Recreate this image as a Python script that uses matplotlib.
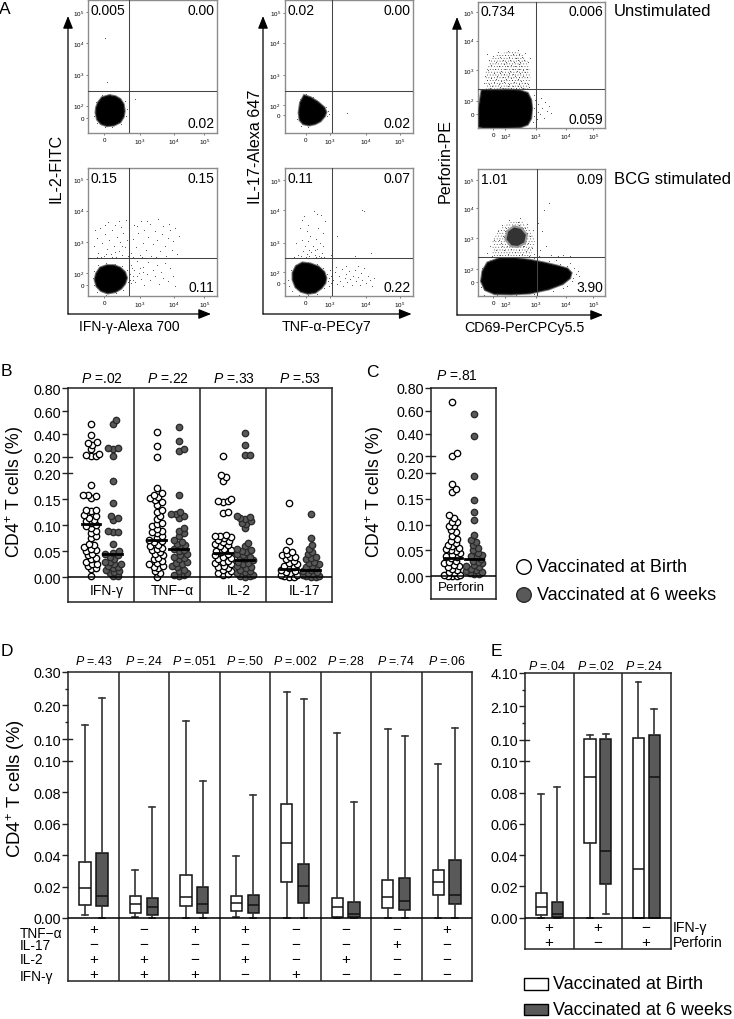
import numpy as np
import matplotlib
matplotlib.use("Agg")
import matplotlib.pyplot as plt
from matplotlib.patches import Circle, Rectangle

plt.rcParams['font.family'] = ['Liberation Sans', 'DejaVu Sans']
plt.rcParams['mathtext.fontset'] = 'custom'
plt.rcParams['mathtext.rm'] = 'Liberation Sans'
plt.rcParams['mathtext.it'] = 'Liberation Sans:italic'
plt.rcParams['mathtext.bf'] = 'Liberation Sans:bold'
plt.rcParams['hatch.linewidth'] = 0.3

WHITE = "#ffffff"
DARK = "#595959"
LINE = "#222222"

# --- panel B / C: percent of CD4+ T cells per infant
cytokines = ["IFN-γ", "TNF−α", "IL-2", "IL-17"]
p_b = [".02", ".22", ".33", ".53"]
ifn_birth = [.489, .392, .328, .322, .308, .27, .226, .215, .21, .21, .178, .158, .157, .158, .152, .13, .13, .128, .12, .118, .115, .11, .108,
             .104, .10, .098, .095, .09, .085, .08, .075, .065, .062, .058, .055, .052, .05, .045, .042, .038, .035, .03, .026, .025, .022, .018, .016, .002]
ifn_6wk = [.52, .49, .28, .28, .27, .21, .185, .143, .118, .115, .11, .09, .088, .088, .065, .05, .047, .045, .042, .04, .035, .03, .03,
           .025, .025, .022, .02, .018, .015, .012, .01, .008, .002, .002]
tnf_birth = [.416, .293, .203, .172, .162, .158, .155, .152, .148, .145, .14, .13, .125, .118, .112, .105, .102, .098, .093, .09, .088, .085, .08,
             .075, .072, .07, .067, .063, .06, .057, .055, .052, .048, .045, .042, .038, .035, .032, .028, .025, .022, .02, .018, .012, .008, .001]
tnf_6wk = [.46, .335, .27, .255, .158, .125, .122, .122, .118, .115, .095, .09, .085, .08, .072, .068, .065, .062, .058, .055, .052, .05, .045,
           .042, .04, .038, .035, .03, .028, .025, .022, .02, .015, .012, .008, .005, .004, .003]
il2_birth = [.205, .197, .192, .186, .151, .146, .144, .146, .125, .124, .082, .08, .08, .078, .075, .072, .07, .067, .065, .062, .06, .055,
             .052, .05, .048, .045, .042, .04, .037, .035, .032, .03, .027, .025, .022, .02, .018, .015, .012, .008, .006, .005]
il2_6wk = [.41, .308, .22, .22, .118, .116, .115, .112, .108, .105, .103, .095, .066, .06, .055, .052, .05, .048, .045, .042, .04, .038, .035,
           .033, .03, .028, .025, .022, .02, .018, .015, .012, .01, .008, .005, .003, .002, .001]
il17_birth = [.142, .07, .053, .048, .045, .042, .04, .04, .035, .032, .028, .025, .022, .02, .018, .015, .012, .01, .008, .005, .004, .002, .001, .001]
il17_6wk = [.122, .076, .062, .055, .048, .045, .04, .038, .035, .03, .028, .025, .022, .02, .018, .015, .012, .01, .008, .006, .004, .003, .002, .001, .001]
medians_birth = [.103, .072, .047, .016]
medians_6wk = [.044, .054, .033, .014]

perf_birth = [.68, .229, .206, .178, .168, .162, .118, .113, .105, .104, .098, .097, .09, .085, .078, .072, .068, .064, .06, .058, .055, .052, .05,
              .048, .045, .042, .04, .038, .035, .03, .027, .025, .022, .02, .018, .015, .012, .008, .006, .003, .002, .001, .001, .001]
perf_6wk = [.574, .381, .193, .147, .125, .108, .08, .07, .066, .06, .055, .05, .045, .042, .04, .037, .034, .03, .028, .025, .022, .02,
            .018, .015, .012, .01, .008, .007, .005, .004]
perf_medians = [.036, .034]

# --- panel D / E: whisker low, q1, median, q3, whisker high
p_d = [".43", ".24", ".051", ".50", ".002", ".28", ".74", ".06"]
d_birth = [[.002, .0083, .019, .0354, .1407], [.0004, .0032, .0087, .0142, .0303], [0, .0074, .0131, .0273, .1525], [.0004, .0047, .0093, .0142, .0394],
           [0, .0227, .0479, .0727, .2406], [0, .0008, .0072, .0125, .1174], [0, .0061, .0131, .0239, .1287], [0, .0148, .0229, .0303, .0977]]
d_6wk = [[0, .0074, .0138, .0411, .2228], [0, .0021, .0068, .0125, .0706], [0, .0034, .0091, .0195, .0871], [0, .003, .0081, .0148, .0782],
         [0, .0097, .0203, .0341, .2188], [0, .0008, .0025, .0104, .0739], [0, .0051, .011, .0252, .11], [0, .0089, .0148, .0371, .1317]]
d_rows = ["TNF−α", "IL-17", "IL-2", "IFN-γ"]
d_signs = ["+−++", "−−++", "+−−+", "+−+−", "−−−+", "−−+−", "−+−−", "+−−−"]

p_e = [".04", ".02", ".24"]
e_birth = [[0, .0019, .0066, .0156, .0793], [0, .0475, .0898, .14, .4], [0, 0, .0309, .18, 3.58]]
e_6wk = [[0, .0006, .0023, .0098, .0838], [.0023, .0215, .0424, .11, .46], [0, 0, .09, .38, 1.94]]
e_rows = ["IFN-γ", "Perforin"]
e_signs = ["++", "+−", "−+"]

# --- panel A: flow plots, values in display channels
p1_un_blob = [(17, 60), (20, 40), (28, 27), (40, 21), (55, 23), (68, 32), (75, 48), (77, 65), (75, 85), (68, 100), (58, 108), (45, 111), (30, 105), (22, 90), (18, 75)]
p1_un_dots = [(36, 284), (41, 151), (100, 101), (14, 70), (13, 50), (20, 30), (35, 17), (50, 17), (70, 26), (80, 50), (82, 72), (78, 95), (62, 108), (46, 116), (30, 112), (16, 92)]
p1_st_blob = [(15, 50), (19, 30), (28, 17), (42, 10), (58, 14), (70, 24), (78, 38), (82, 55), (78, 72), (68, 85), (55, 92), (40, 92), (26, 85), (18, 68)]
p1_st_dots = [(12, 150), (18, 176), (22, 131), (25, 205), (30, 160), (33, 120), (36, 188), (40, 142), (42, 222), (45, 170), (48, 126), (52, 198), (55, 152), (58, 215), (60, 118),
              (62, 178), (65, 137), (68, 162), (70, 208), (73, 125), (75, 190), (78, 147), (80, 228), (82, 170), (85, 120), (28, 118), (50, 118), (44, 116), (38, 128), (20, 118),
              (15, 200), (35, 215), (66, 226), (72, 150), (57, 133), (92, 130), (95, 172), (98, 215), (102, 148), (106, 190), (110, 124), (113, 226), (117, 160), (120, 200),
              (124, 138), (128, 178), (131, 216), (135, 120), (138, 156), (142, 196), (146, 170), (150, 232), (153, 136), (157, 186), (160, 212), (163, 150), (167, 122), (170, 176),
              (175, 198), (178, 140), (182, 165), (186, 205), (190, 128), (194, 182), (105, 210), (125, 225), (145, 118), (172, 218), (115, 118), (96, 118), (92, 95), (95, 60),
              (98, 78), (100, 42), (104, 105), (108, 70), (112, 52), (116, 88), (120, 35), (125, 66), (128, 102), (133, 48), (138, 80), (142, 60), (147, 95), (152, 38), (156, 72),
              (160, 55), (165, 100), (170, 45), (175, 84), (180, 62), (186, 30), (94, 85), (96, 48), (105, 62), (110, 84), (118, 74), (90, 68), (92, 40), (11, 55), (12, 34), (20, 12),
              (38, 5), (60, 9), (75, 20), (85, 42), (88, 62), (84, 80), (72, 92), (58, 98), (38, 100), (22, 95), (12, 75), (90, 50)]

p2_un_blob = [(31, 60), (33, 38), (40, 27), (52, 23), (65, 27), (76, 35), (85, 50), (88, 62), (84, 75), (70, 92), (55, 105), (42, 111), (34, 90)]
p2_un_dots = [(133, 59), (28, 60), (27, 40), (35, 20), (50, 18), (70, 28), (90, 50), (92, 65), (88, 78), (95, 55), (60, 108), (45, 115), (32, 100)]
p2_st_blob = [(18, 50), (24, 28), (35, 15), (50, 9), (65, 12), (78, 25), (86, 40), (88, 55), (84, 72), (72, 88), (55, 97), (38, 100), (25, 90), (18, 70)]
p2_st_dots = [(35, 120), (38, 170), (40, 135), (42, 240), (44, 150), (46, 118), (47, 195), (48, 128), (50, 165), (50, 215), (52, 140), (53, 122), (54, 180), (56, 132), (58, 116),
              (60, 150), (62, 255), (64, 125), (66, 172), (68, 118), (70, 142), (72, 205), (74, 120), (76, 160), (78, 245), (80, 130), (82, 190), (84, 118), (86, 225), (70, 248),
              (28, 125), (25, 160), (33, 205), (20, 118), (78, 118), (65, 140), (38, 228), (82, 150), (170, 255), (165, 258), (100, 125), (150, 120), (112, 180), (185, 130),
              (104, 50), (108, 72), (112, 38), (115, 60), (118, 45), (122, 82), (125, 30), (128, 55), (130, 68), (134, 42), (137, 75), (140, 52), (144, 35), (146, 62), (150, 80),
              (153, 45), (156, 58), (160, 35), (163, 70), (166, 50), (170, 84), (174, 40), (178, 62), (182, 48), (186, 30), (190, 55), (100, 62), (98, 40), (96, 78), (94, 55),
              (110, 88), (132, 90), (157, 90), (95, 30), (8, 50), (10, 30), (15, 15), (30, 4), (50, 5), (70, 8), (85, 25), (92, 45), (90, 68), (82, 85), (70, 98), (50, 104), (30, 100), (14, 80)]

p3_un_blob = [(2, 5), (10, 3), (30, 3), (60, 3), (90, 4), (105, 12), (112, 30), (114, 60), (112, 85), (105, 105), (90, 112), (60, 115), (30, 113), (8, 113), (2, 60)]
p3_un_cloud = [(16, 118), (108, 118), (112, 160), (106, 200), (92, 225), (70, 232), (44, 224), (24, 205), (15, 165)]
p3_un_dots = [(14, 118), (25, 122), (36, 119), (47, 124), (58, 118), (69, 122), (80, 120), (91, 124), (102, 119), (108, 125), (30, 127), (63, 128), (85, 128), (52, 120), (74, 126), (96, 122),
              (12, 136), (22, 132), (33, 138), (44, 133), (55, 139), (66, 134), (77, 138), (88, 132), (99, 137), (106, 134), (48, 142), (72, 145), (92, 143), (60, 147), (84, 147), (37, 148), (18, 146),
              (15, 158), (27, 152), (41, 156), (52, 153), (63, 158), (70, 152), (79, 157), (86, 153), (95, 158), (104, 153), (56, 164), (66, 166), (75, 164), (90, 165), (99, 168), (33, 165), (46, 167),
              (20, 176), (35, 178), (48, 172), (58, 177), (68, 173), (74, 178), (82, 172), (88, 178), (96, 174), (103, 179), (62, 186), (78, 186), (70, 190), (92, 187), (44, 186), (54, 192), (86, 194), (28, 190),
              (24, 204), (38, 200), (52, 206), (60, 199), (68, 204), (76, 198), (84, 205), (90, 200), (98, 206), (106, 198), (46, 213), (66, 214), (80, 212), (94, 215), (32, 216), (57, 220), (74, 222), (88, 224),
              (100, 226), (42, 228), (64, 232), (84, 235), (18, 222), (110, 212), (116, 20), (118, 38), (120, 62), (122, 85), (125, 28), (127, 50), (128, 74), (132, 42), (134, 92), (136, 60), (140, 30),
              (143, 78), (146, 52), (150, 68), (124, 108), (118, 100), (155, 45)]
p3_st_blob = [(7, 45), (15, 20), (35, 8), (70, 7), (110, 10), (150, 22), (180, 38), (195, 55), (198, 70), (190, 82), (170, 90), (140, 100), (110, 108), (80, 113), (45, 113), (20, 100), (10, 75)]
p3_st_cloud = [(30, 120), (112, 120), (122, 160), (112, 200), (92, 226), (66, 222), (44, 200), (30, 165)]
p3_st_core = [(58, 170), (70, 150), (85, 148), (100, 160), (104, 185), (92, 205), (76, 210), (62, 196)]
p3_st_dots = [(18, 130), (25, 150), (30, 120), (34, 170), (38, 140), (42, 195), (46, 125), (48, 160), (50, 215), (54, 138), (56, 178), (58, 118), (60, 205), (62, 150), (64, 128), (66, 228), (68, 190),
              (70, 142), (72, 168), (74, 118), (76, 212), (78, 132), (82, 150), (84, 222), (86, 124), (88, 140), (90, 235), (92, 205), (94, 128), (96, 150), (98, 170), (100, 190), (102, 135), (104, 218),
              (106, 160), (108, 122), (110, 180), (114, 145), (116, 200), (120, 128), (125, 165), (128, 220), (132, 140), (140, 260), (150, 280), (135, 195), (145, 150), (130, 120), (138, 118), (155, 125),
              (160, 118), (170, 120), (180, 125), (195, 122), (60, 170), (62, 185), (64, 195), (66, 160), (70, 205), (74, 155), (80, 212), (86, 160), (88, 215), (96, 205), (98, 150), (100, 205), (102, 175),
              (104, 190), (106, 145), (58, 195), (52, 180), (50, 150), (44, 170), (3, 50), (5, 28), (12, 5), (40, 3), (80, 3), (120, 6), (160, 16), (190, 32), (203, 55), (208, 68), (204, 85), (190, 92),
              (175, 98), (150, 106), (120, 114), (90, 116), (60, 116), (25, 108), (8, 85), (200, 45), (212, 75), (180, 25), (215, 60), (196, 100), (165, 108)]

fig = plt.figure(figsize=(7.34, 10.2), dpi=100)
bg = fig.add_axes([0, 0, 1, 1])
bg.set_xlim(0, 734)
bg.set_ylim(1020, 0)
bg.axis("off")


def add_ax(left, top, right, bottom):
    return fig.add_axes([left / 734, 1 - bottom / 1020, (right - left) / 734, (bottom - top) / 1020], facecolor="none")


def broken_scale(brk, low_k, gap, up_k):
    top = brk * low_k

    def fwd(v):
        v = np.asarray(v, dtype=float)
        return np.where(v <= brk, v * low_k, top + gap + (v - brk) * up_k)

    def inv(p):
        p = np.asarray(p, dtype=float)
        return np.where(p <= top, p / low_k, brk + np.maximum(p - top - gap, 0) / up_k)

    return fwd, inv


def broken_panel(rect, n, brk, scale, ymin, ymax, ticks, labels, minor=()):
    ax = add_ax(*rect)
    ax.set_yscale("function", functions=broken_scale(brk, *scale))
    ax.set_yticks(ticks, labels=labels)
    ax.set_yticks(list(minor), minor=True)
    ax.set_ylim(ymin, ymax)
    ax.set_xlim(0, n)
    ax.set_xticks([])
    ax.tick_params(axis="y", which="major", length=4.5, width=1, labelsize=10.3, pad=0.5, color=LINE)
    ax.tick_params(axis="y", which="minor", length=2.5, width=1, color=LINE)
    for s in ax.spines.values():
        s.set_linewidth(1.1)
        s.set_color(LINE)
    for i in range(1, n):
        ax.axvline(i, color=LINE, lw=1.1)
    ax.axhline(0, color="black", lw=1.1, zorder=5)
    # the two ticks at the break run through the frame
    for v in (brk, brk + 1e-9):
        ax.plot([0, 4.0 / (rect[2] - rect[0]) * n], [v, v], color=LINE, lw=1, clip_on=False)
    return ax


def swarm(ax, center, values, diam=4.4, reach=9.5):
    # spread each value sideways until it clears the ones already placed
    vals = np.sort(np.asarray(values))
    pts = ax.transData.transform(np.column_stack([np.full(len(vals), center), vals]))
    placed = []
    offsets = [0.0]
    for k in range(1, int(reach / 1.6) + 1):
        offsets += [k * 1.6, -k * 1.6]
    for px, py in pts:
        best, best_gap = 0.0, -1.0
        for off in offsets:
            gap = min([np.hypot(px + off - a, py - b) for a, b in placed] or [99.0])
            if gap >= diam:
                best = off
                break
            if gap > best_gap:
                best, best_gap = off, gap
        placed.append((px + best, py))
    return ax.transData.inverted().transform(np.array(placed))


def dots(ax, center, values, face, edge):
    xy = swarm(ax, center, values)
    ax.scatter(xy[:, 0], xy[:, 1], s=21, facecolor=face, edgecolor=edge, linewidth=0.95, clip_on=False, zorder=3)


def boxes(ax, rows, positions, face, width, cap):
    stats = [dict(whislo=r[0], q1=r[1], med=r[2], q3=r[3], whishi=r[4], fliers=[]) for r in rows]
    ax.bxp(stats, positions=positions, widths=width, capwidths=cap, patch_artist=True, showfliers=False, manage_ticks=False,
           boxprops=dict(facecolor=face, edgecolor="#111111", linewidth=1.1),
           medianprops=dict(color="#111111", linewidth=1.1),
           whiskerprops=dict(color="#333333", linewidth=1.2),
           capprops=dict(color="#333333", linewidth=1.2), zorder=3)


def flow_panel(rect, width, height, xticks, xlabels, yticks, gate_x, gate_y, blob, points, corners, cloud=None, core=None):
    ax = add_ax(*rect)
    ax.set_xlim(0, width)
    ax.set_ylim(0, height)
    ax.set_xticks(xticks, labels=xlabels)
    ax.set_yticks(yticks, labels=["0", "$10^2$", "$10^3$", "$10^4$", "$10^5$"])
    ax.tick_params(length=1.3, width=0.5, labelsize=4.5, pad=1.5, color="#444444")
    for s in ax.spines.values():
        s.set_color("#8c8c8c")
        s.set_linewidth(1.0)
    if cloud is not None:
        # stippled region for the part too dense to read dot by dot
        p = np.array(cloud)
        ax.fill(p[:, 0], p[:, 1], facecolor="none", edgecolor="#555555", hatch="......", lw=0, zorder=1)
    pts = np.array(points)
    ax.plot(pts[:, 0], pts[:, 1], ls="", marker=".", ms=1.2, mew=0, color="#333333", zorder=2)
    hull = np.array(blob)
    ax.fill(hull[:, 0], hull[:, 1], facecolor="black", edgecolor="#777777", lw=2.2, zorder=3)
    ax.fill(hull[:, 0], hull[:, 1], facecolor="black", edgecolor="#111111", lw=0.8, zorder=3)
    if core is not None:
        c = np.array(core)
        ax.fill(c[:, 0], c[:, 1], facecolor="#333333", edgecolor="#999999", lw=1.5, zorder=3)
    ax.axvline(gate_x, color="#444444", lw=0.75, zorder=4)
    ax.axhline(gate_y, color="#444444", lw=0.75, zorder=4)
    ax.text(0.02, 0.925, corners[0], transform=ax.transAxes, ha="left", va="center", fontsize=10)
    ax.text(0.985, 0.925, corners[1], transform=ax.transAxes, ha="right", va="center", fontsize=10)
    ax.text(0.985, 0.075, corners[2], transform=ax.transAxes, ha="right", va="center", fontsize=10)
    return ax


def arrow(x0, y0, x1, y1):
    bg.annotate("", xy=(x1, y1), xytext=(x0, y0),
                arrowprops=dict(arrowstyle="-|>,head_length=0.75,head_width=0.3", color="black", lw=0.9, shrinkA=0, shrinkB=0))


# panel A
x12 = [34, 110, 183, 248]
x2 = [45, 96, 173, 246]
x3 = [32, 58, 123, 187, 245]
xl12 = ["0", "$10^3$", "$10^4$", "$10^5$"]
xl3 = ["0", "$10^2$", "$10^3$", "$10^4$", "$10^5$"]
flow_panel((88.1, 1, 216.6, 133.7), 274, 398, x12, xl12, [45, 81, 174, 269, 361], 88, 125, p1_un_blob, p1_un_dots, ["0.005", "0.00", "0.02"])
flow_panel((88.1, 169, 216.6, 297.3), 274, 385, x12, xl12, [34, 70, 162, 257, 351], 88, 114, p1_st_blob, p1_st_dots, ["0.15", "0.15", "0.11"])
flow_panel((284.6, 1, 412.6, 133.7), 273, 398, x2, xl12, [53, 83, 172, 270, 360], 102, 125, p2_un_blob, p2_un_dots, ["0.02", "0.00", "0.02"])
flow_panel((284.6, 169, 412.6, 297.3), 273, 385, x2, xl12, [41, 72, 161, 259, 349], 102, 114, p2_st_blob, p2_st_dots, ["0.11", "0.07", "0.22"])
flow_panel((478.2, 2.7, 605.3, 129.3), 271, 380, x3, xl3, [43, 83, 175, 263, 348], 123, 117, p3_un_blob, p3_un_dots, ["0.734", "0.006", "0.059"], cloud=p3_un_cloud)
flow_panel((478.2, 170.3, 605.3, 297.3), 271, 381, x3, xl3, [42, 82, 175, 264, 348], 125, 117, p3_st_blob, p3_st_dots, ["1.01", "0.09", "3.90"], cloud=p3_st_cloud, core=p3_st_core)

for ax_x, right, y0, top in [(68, 211, 315, 17), (263, 411.6, 315, 17), (457, 603, 316, 18)]:
    arrow(ax_x, y0, ax_x, top)
    arrow(ax_x, y0, right, y0)

bg.text(56, 168, "IL-2-FITC", rotation=90, ha="center", va="center", fontsize=11.6)
bg.text(255.5, 147, "IL-17-Alexa 647", rotation=90, ha="center", va="center", fontsize=11.6)
bg.text(445, 161, "Perforin-PE", rotation=90, ha="center", va="center", fontsize=11.6)
bg.text(129, 327, "IFN-γ-Alexa 700", ha="center", va="center", fontsize=10)
bg.text(327, 327, "TNF-α-PECy7", ha="center", va="center", fontsize=10.3)
bg.text(524, 328, "CD69-PerCPCy5.5", ha="center", va="center", fontsize=10.3)
bg.text(614, 11, "Unstimulated", ha="left", va="center", fontsize=12)
bg.text(614, 180, "BCG stimulated", ha="left", va="center", fontsize=12)

for letter, x, y in [("A", 5, 10), ("B", 6, 372), ("C", 372, 373), ("D", 7, 652), ("E", 496, 652)]:
    bg.text(x, y, letter, ha="center", va="center", fontsize=12.5)

# panel B
ticks_b = [0, .05, .10, .15, .20, .20 + 1e-9, .40, .60, .80]
labels_b = ["0.00", "0.05", "0.10", "0.15", "0.20", "0.20", "0.40", "0.60", "0.80"]
ax_b = broken_panel((68.3, 389.3, 332.3, 602.7), 4, .20, (1560, 49, 343), -.0468, .80, ticks_b, labels_b)
birth_sets = [ifn_birth, tnf_birth, il2_birth, il17_birth]
wk6_sets = [ifn_6wk, tnf_6wk, il2_6wk, il17_6wk]
for i, name in enumerate(cytokines):
    dots(ax_b, i + .342, birth_sets[i], WHITE, "black")
    dots(ax_b, i + .673, wk6_sets[i], DARK, "#2a2a2a")
    ax_b.plot([i + .2, i + .48], [medians_birth[i]] * 2, color="black", lw=2, zorder=4)
    ax_b.plot([i + .53, i + .81], [medians_6wk[i]] * 2, color="black", lw=2, zorder=4)
    ax_b.text(i + .58, -.0246, name, ha="center", va="center", fontsize=10)
    ax_b.text(i + .51, 1.047, "$P$ =" + p_b[i], transform=ax_b.get_xaxis_transform(), ha="center", va="center", fontsize=10)
bg.text(15, 492, "CD4$^{+}$ T cells (%)", rotation=90, ha="center", va="center", fontsize=12.7)

# panel C
ax_c = broken_panel((430.7, 389, 496.3, 600), 1, .20, (1555, 49, 342), -.0437, .80, ticks_b, labels_b)
dots(ax_c, .33, perf_birth, WHITE, "black")
dots(ax_c, .665, perf_6wk, DARK, "#2a2a2a")
ax_c.plot([.2, .47], [perf_medians[0]] * 2, color="black", lw=2, zorder=4)
ax_c.plot([.53, .8], [perf_medians[1]] * 2, color="black", lw=2, zorder=4)
ax_c.text(.47, -.02, "Perforin", ha="center", va="center", fontsize=9.6)
ax_c.text(.4, 1.062, "$P$ =.81", transform=ax_c.get_xaxis_transform(), ha="center", va="center", fontsize=10)
bg.text(375, 492, "CD4$^{+}$ T cells (%)", rotation=90, ha="center", va="center", fontsize=12.7)

bg.add_patch(Circle((524, 568), 7.3, facecolor=WHITE, edgecolor="black", lw=1))
bg.add_patch(Circle((524, 596), 7.3, facecolor=DARK, edgecolor="#2a2a2a", lw=1))
bg.text(537, 568, "Vaccinated at Birth", va="center", fontsize=13)
bg.text(537, 596, "Vaccinated at 6 weeks", va="center", fontsize=13)

# panel D
ticks_d = [0, .02, .04, .06, .08, .10, .10 + 1e-9, .20, .30]
labels_d = ["0.00", "0.02", "0.04", "0.06", "0.08", "0.10", "0.10", "0.20", "0.30"]
ax_d = broken_panel((68.3, 672.7, 472, 982.3), 8, .10, (4720, 65, 1010), -.04025, .30, ticks_d, labels_d, minor=[.15, .25])
boxes(ax_d, d_birth, np.arange(8) + .33, WHITE, .225, .12)
boxes(ax_d, d_6wk, np.arange(8) + .665, DARK, .225, .12)
for i, signs in enumerate(d_signs):
    ax_d.text(i + .5, 1.0355, "$P$ =" + p_d[i], transform=ax_d.get_xaxis_transform(), ha="center", va="center", fontsize=8.9)
    for sign, y in zip(signs, [-.0068, -.0166, -.0261, -.0355]):
        ax_d.text(i + .5, y, sign, ha="center", va="center", fontsize=11)
for name, y in zip(d_rows, [934, 946, 960, 977]):
    bg.text(20, y, name, ha="left", va="center", fontsize=9.8)
bg.text(16, 789, "CD4$^{+}$ T cells (%)", rotation=90, ha="center", va="center", fontsize=13.3)

# panel E
ticks_e = [0, .02, .04, .06, .08, .10, .10 + 1e-9, 2.10, 4.10]
labels_e = ["0.00", "0.02", "0.04", "0.06", "0.08", "0.10", "0.10", "2.10", "4.10"]
ax_e = broken_panel((525, 674, 670.7, 950.3), 3, .10, (4690, 65, 50), -.0203, 4.10, ticks_e, labels_e, minor=[1.10, 3.10])
boxes(ax_e, e_birth, np.arange(3) + .336, WHITE, .232, .12)
boxes(ax_e, e_6wk, np.arange(3) + .664, DARK, .232, .12)
for i, signs in enumerate(e_signs):
    ax_e.text(i + .45, 1.028, "$P$ =" + p_e[i], transform=ax_e.get_xaxis_transform(), ha="center", va="center", fontsize=8.9)
    for sign, y in zip(signs, [-.0062, -.0155]):
        ax_e.text(i + .49, y, sign, ha="center", va="center", fontsize=11)
for name, y in zip(e_rows, [-.0062, -.0155]):
    ax_e.text(3.04, y, name, ha="left", va="center", fontsize=10.2)

bg.add_patch(Rectangle((524, 979.3), 24, 11.4, facecolor=WHITE, edgecolor="black", lw=1))
bg.add_patch(Rectangle((524, 1005), 24, 11.4, facecolor=DARK, edgecolor="black", lw=1))
bg.text(552.7, 985, "Vaccinated at Birth", va="center", fontsize=13)
bg.text(552.7, 1011, "Vaccinated at 6 weeks", va="center", fontsize=13)

fig.savefig("out.png", dpi=100)
plt.close()
